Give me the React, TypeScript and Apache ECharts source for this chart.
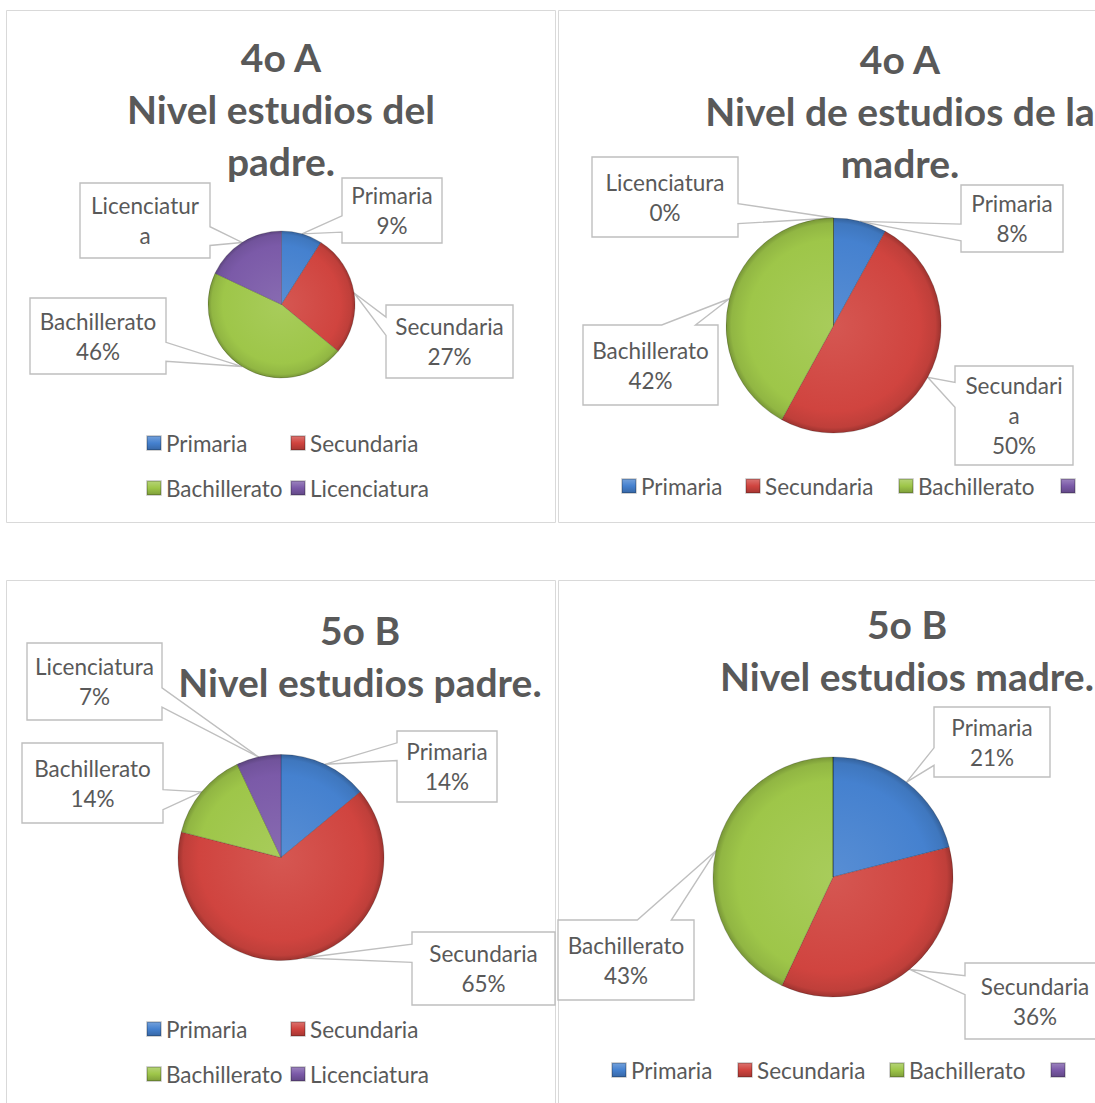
import React, { useEffect, useRef } from "react";
import * as echarts from "echarts";

// ---------- data ----------
const categories = ["Primaria", "Secundaria", "Bachillerato", "Licenciatura"];
const padre4A = [9, 27, 46, 18];
const madre4A = [8, 50, 42, 0];
const padre5B = [14, 65, 14, 7];
const madre5B = [21, 36, 43, 0];
const seriesValues = [padre4A, madre4A, padre5B, madre5B];

const titles = [
  "4o A\nNivel estudios del\npadre.",
  "4o A\nNivel de estudios de la\nmadre.",
  "5o B\nNivel estudios padre.",
  "5o B\nNivel estudios madre.",
];

// label texts wrapped as in the original callouts
const labelOverrides: Record<number, string>[] = [
  { 3: "Licenciatur\na" },
  { 1: "Secundari\na\n50%" },
  {},
  {},
];
const hiddenLabels = [[], [], [], [3]];
const legendHideLastText = [false, true, false, true];

// ---------- style / layout ----------
const COLORS = ["#4581cf", "#d0443f", "#9ec649", "#7b5aa8"];
const TEXT = "#595959";
const FONT = "Lato, 'Open Sans', sans-serif";
const LABEL_SIZE = 22.5;

const panels = [
  [6, 10, 549, 512],
  [558, 10, 600, 512],
  [6, 580, 549, 600],
  [558, 580, 600, 600],
];
const pieCenters = [
  [281.5, 304.5],
  [833.5, 325.5],
  [281, 857.5],
  [833, 877],
];
const pieRadii = [73.5, 107.5, 103, 120];
const titlePos = [
  [281, 31],
  [900, 33],
  [360, 604],
  [907, 598],
];
// callout boxes [x, y, w, h] per chart, in category order
const labelBoxes: (number[] | null)[][] = [
  [[342, 178, 100, 65], [386, 305, 127, 73], [30, 298, 136, 76], [80, 183, 130, 75]],
  [[961, 185, 102, 67], [955, 366, 118, 99], [583, 325, 135, 80], [592, 157, 146, 80]],
  [[397, 731, 100, 71], [412, 932, 143, 73], [22, 743, 141, 80], [27, 643, 135, 77]],
  [[934, 707, 116, 70], [965, 963, 140, 76], [558, 920, 136, 80], null],
];
const legendRows = [
  { chart: 0, items: [0, 1], left: 146, cy: 443, widths: [124, 124] },
  { chart: 0, items: [2, 3], left: 146, cy: 488, widths: [124, 124] },
  { chart: 1, items: [0, 1, 2, 3], left: 621, cy: 486, widths: [104, 133, 142, 0] },
  { chart: 2, items: [0, 1], left: 146, cy: 1029, widths: [124, 124] },
  { chart: 2, items: [2, 3], left: 146, cy: 1074, widths: [124, 124] },
  { chart: 3, items: [0, 1, 2, 3], left: 611, cy: 1070, widths: [106, 132, 141, 0] },
];

function shade(hex: string, amt: number) {
  const n = parseInt(hex.slice(1), 16);
  let r = (n >> 16) & 255, g = (n >> 8) & 255, b = n & 255;
  const f = (c: number) =>
    Math.max(0, Math.min(255, Math.round(amt >= 0 ? c + (255 - c) * amt : c * (1 + amt))));
  r = f(r); g = f(g); b = f(b);
  return "#" + ((1 << 24) + (r << 16) + (g << 8) + b).toString(16).slice(1);
}

function sliceFill(color: string, s: number) {
  return {
    type: "radial",
    x: pieCenters[s][0],
    y: pieCenters[s][1],
    r: pieRadii[s],
    global: true,
    colorStops: [
      { offset: 0, color: shade(color, 0.1) },
      { offset: 0.8, color: color },
      { offset: 0.95, color: shade(color, -0.08) },
      { offset: 1, color: shade(color, -0.25) },
    ],
  };
}

function iconFill(color: string) {
  return {
    type: "linear",
    x: 0, y: 0, x2: 0, y2: 1,
    colorStops: [
      { offset: 0, color: shade(color, 0.25) },
      { offset: 0.5, color: color },
      { offset: 1, color: shade(color, -0.2) },
    ],
  };
}

function calloutPoints(b: number[], tx: number, ty: number) {
  const [x, y, w, h] = b;
  const cx = x + w / 2, cy = y + h / 2;
  const dx = (tx - cx) * h, dy = (ty - cy) * w;
  const tl = [x, y], tr = [x + w, y], br = [x + w, y + h], bl = [x, y + h];
  if (tx >= x && tx <= x + w && ty >= y && ty <= y + h) return [tl, tr, br, bl];
  const lo = [2 / 12, 5 / 12], hi = [7 / 12, 10 / 12];
  if (Math.abs(dx) >= Math.abs(dy)) {
    const [a, c] = dy >= 0 ? hi : lo;
    if (dx > 0) return [tl, tr, [x + w, y + h * a], [tx, ty], [x + w, y + h * c], br, bl];
    return [tl, tr, br, bl, [x, y + h * c], [tx, ty], [x, y + h * a]];
  }
  const [a, c] = dx >= 0 ? hi : lo;
  if (dy < 0) return [tl, [x + w * a, y], [tx, ty], [x + w * c, y], tr, br, bl];
  return [tl, tr, br, [x + w * c, y + h], [tx, ty], [x + w * a, y + h], bl];
}

function panelElements() {
  return panels.map((p, i) => ({
    type: "rect",
    id: "panel" + i,
    z: 0,
    silent: true,
    shape: { x: p[0] + 0.5, y: p[1] + 0.5, width: p[2], height: p[3] },
    style: { fill: "#ffffff", stroke: "#d9d9d9", lineWidth: 1 },
  }));
}

export default function App() {
  const ref = useRef<HTMLDivElement>(null);
  useEffect(() => {
    if (!ref.current) return;
    const chart = echarts.init(ref.current, undefined, { renderer: "svg" });

    const series = seriesValues.map((vals, s) => ({
      type: "pie",
      center: pieCenters[s],
      radius: pieRadii[s],
      startAngle: 90,
      clockwise: true,
      avoidLabelOverlap: false,
      silent: true,
      z: 3,
      emphasis: { disabled: true },
      label: {
        show: true,
        position: "outside",
        color: TEXT,
        fontSize: LABEL_SIZE,
        fontFamily: FONT,
        lineHeight: 30,
        align: "center",
        formatter: (p: any) =>
          labelOverrides[s][p.dataIndex] ?? `${p.name}\n${p.value}%`,
      },
      labelLine: { show: false },
      labelLayout: (p: any) => {
        const b = labelBoxes[s][p.dataIndex];
        if (!b) return {};
        return { x: b[0] + b[2] / 2, y: b[1] + b[3] / 2, align: "center", verticalAlign: "middle" };
      },
      itemStyle: {
        borderColor: "rgba(0,0,0,0.18)",
        borderWidth: 1,
      },
      data: categories.map((name, i) => ({
        name,
        value: vals[i],
        itemStyle: { color: sliceFill(COLORS[i], s) },
        label: (hiddenLabels[s] as number[]).includes(i) ? { show: false } : undefined,
      })),
    }));

    const legends = legendRows.map((row) => ({
      left: row.left,
      top: row.cy - 12,
      orient: "horizontal",
      padding: 0,
      itemGap: 0,
      itemWidth: 14,
      itemHeight: 14,
      icon: "rect",
      selectedMode: false,
      textStyle: { color: TEXT, fontSize: LABEL_SIZE, fontFamily: FONT, lineHeight: 24 },
      formatter: (name: string) =>
        legendHideLastText[row.chart] && name === categories[3] ? "" : name,
      data: row.items.map((i, k) => ({
        name: categories[i],
        itemStyle: { color: iconFill(COLORS[i]) },
        textStyle: { width: row.widths[k] },
      })),
    }));

    const title = titles.map((t, i) => ({
      text: t,
      left: titlePos[i][0],
      top: titlePos[i][1],
      textAlign: "center",
      padding: 0,
      textStyle: {
        color: TEXT,
        fontSize: 39,
        fontWeight: "bold",
        fontFamily: FONT,
        lineHeight: 52,
      },
    }));

    chart.setOption({
      animation: false,
      backgroundColor: "#ffffff",
      title,
      legend: legends,
      graphic: { elements: panelElements() },
      series,
    });

    // callout shapes (Excel wedge-rect callouts) pointing at each slice, from the pie layout
    const callouts: any[] = [];
    let model: any = null;
    try {
      model = (chart as any).getModel();
    } catch (e) {
      model = null;
    }
    seriesValues.forEach((vals, s) => {
      const data = model ? model.getSeriesByIndex(s).getData() : null;
      const total = vals.reduce((a, b) => a + b, 0);
      let acc = 0;
      vals.forEach((v, i) => {
        let tx: number, ty: number;
        if (data) {
          const L = data.getItemLayout(i);
          const mid = (L.startAngle + L.endAngle) / 2;
          tx = L.cx + L.r * Math.cos(mid);
          ty = L.cy + L.r * Math.sin(mid);
        } else {
          const mid = -Math.PI / 2 + ((acc + v / 2) / total) * Math.PI * 2;
          tx = pieCenters[s][0] + pieRadii[s] * Math.cos(mid);
          ty = pieCenters[s][1] + pieRadii[s] * Math.sin(mid);
        }
        acc += v;
        const b = labelBoxes[s][i];
        if (!b || (hiddenLabels[s] as number[]).includes(i)) return;
        callouts.push({
          type: "polygon",
          id: `callout-${s}-${i}`,
          z: 1,
          silent: true,
          shape: { points: calloutPoints(b, tx, ty) },
          style: { fill: "#ffffff", stroke: "#bfbfbf", lineWidth: 1.4 },
        });
      });
    });
    chart.setOption({ graphic: { elements: [...panelElements(), ...callouts] } });

    return () => chart.dispose();
  }, []);

  return (
    <div
      ref={ref}
      style={{ position: "fixed", left: 0, top: 0, width: 1095, height: 1103, background: "#fff" }}
    />
  );
}
